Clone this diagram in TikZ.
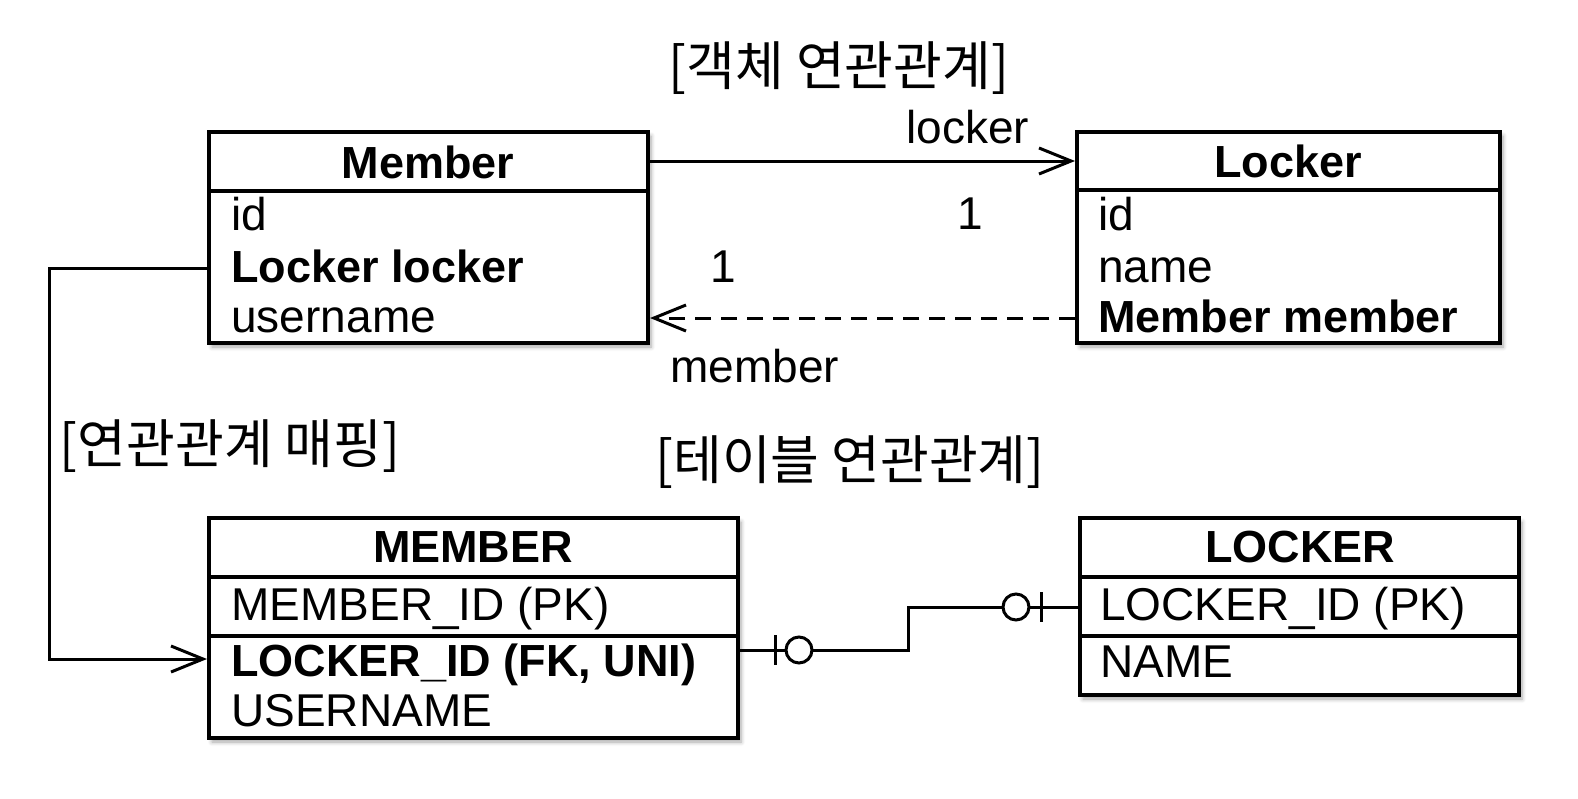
\documentclass[tikz,border=0pt]{standalone}
\usepackage{fontspec}
\setmainfont{Liberation Sans}
\newfontfamily\cjk{Noto Sans CJK KR}
\usetikzlibrary{arrows.meta,shadows.blur,fit}
\begin{document}
\begin{tikzpicture}[x=0.5pt,y=-0.5pt,
  box/.style={draw, line width=2pt, fill=white, rectangle, inner sep=0pt,
    blur shadow={shadow xshift=1.5pt, shadow yshift=-2pt, shadow blur steps=6, shadow opacity=35}},
  sepline/.style={line width=2pt},
  txt/.style={inner sep=0pt, font=\fontsize{23}{27}\selectfont},
  btxt/.style={inner sep=0pt, font=\fontsize{22.5}{27}\selectfont\bfseries},
  ktxt/.style={inner sep=0pt, font=\fontsize{26.5}{30}\selectfont\cjk},
  conn/.style={line width=1.5pt},
  opentip/.style={-{Straight Barb[length=16pt,width=13pt,line width=1.5pt]}},
  dashline/.style={dash pattern=on 8pt off 5pt},
  ]
\useasboundingbox (0,0) rectangle (1578,798);

% ---------- boxes ----------
\node[box, fit={(209,132) (648,343)}] (member) {};
\node[box, fit={(1077,132) (1500,343)}] (locker) {};
\node[box, fit={(209,518) (738,738)}] (memt) {};
\node[box, fit={(1080,518) (1519,695)}] (lockt) {};

% separators
\draw[sepline] (member.west |- 0,191) -- (member.east |- 0,191);
\draw[sepline] (locker.west |- 0,190) -- (locker.east |- 0,190);
\draw[sepline] (memt.west |- 0,577) -- (memt.east |- 0,577);
\draw[sepline] (memt.west |- 0,636) -- (memt.east |- 0,636);
\draw[sepline] (lockt.west |- 0,577) -- (lockt.east |- 0,577);
\draw[sepline] (lockt.west |- 0,636) -- (lockt.east |- 0,636);

% ---------- texts in boxes ----------
\node[btxt, anchor=base] (memberh) at (428,178) {Member};
\node[txt, anchor=base west] (memid) at (231,230) {id};
\node[btxt, anchor=base west] (memlk) at (231,282) {Locker locker};
\node[txt, anchor=base west] (memun) at (231,332) {username};

\node[btxt, anchor=base] (lockerh) at (1288,177) {Locker};
\node[txt, anchor=base west] (lkid) at (1098,230) {id};
\node[txt, anchor=base west] (lkname) at (1098,282) {name};
\node[btxt, anchor=base west] (lkmem) at (1098,332) {Member member};

\node[btxt, anchor=base] (memth) at (473,562) {MEMBER};
\node[txt, anchor=base west] (mtid) at (231,620) {MEMBER\_ID (PK)};
\node[btxt, anchor=base west] (mtfk) at (231,676) {LOCKER\_ID (FK, UNI)};
\node[txt, anchor=base west] (mtun) at (231,726) {USERNAME};

\node[btxt, anchor=base] (lockth) at (1300,562) {LOCKER};
\node[txt, anchor=base west] (ltid) at (1100,620) {LOCKER\_ID (PK)};
\node[txt, anchor=base west] (ltname) at (1100,677) {NAME};

% ---------- titles ----------
\node[ktxt] (t1) at (839,68) {[객체 연관관계]};
\node[ktxt] (t2) at (230,446) {[연관관계 매핑]};
\node[ktxt] (t3) at (850,462) {[테이블 연관관계]};

% ---------- object association ----------
\draw[conn, opentip] (member.east |- 0,161) -- (locker.west |- 0,161);
\node[txt, anchor=base west] (lblocker) at (906,143) {locker};
\node[txt, anchor=base] (one1) at (970,229) {1};

\draw[conn, dashline, opentip] (locker.west |- 0,318) -- (member.east |- 0,318);
\node[txt, anchor=base] (one2) at (723,282) {1};
\node[txt, anchor=base west] (lblmember) at (670,382) {member};

% ---------- mapping ----------
\coordinate (mapA) at (49,268);
\coordinate (mapB) at (49,659);
\draw[conn, opentip] (member.west |- mapA) -- (mapA) -- (mapB) -- (memt.west |- mapB);

% ---------- table relation ----------
\coordinate (erA) at (908,650);
\coordinate (erB) at (908,607);
\draw[conn] (memt.east |- erA) -- (erA) -- (erB) -- (lockt.west |- erB);
\draw[conn] (775,635) -- (775,665);
\draw[conn, fill=white] (799,650) circle[radius=13];
\draw[conn] (1041,592) -- (1041,622);
\draw[conn, fill=white] (1016,607) circle[radius=13];
\end{tikzpicture}
\end{document}
